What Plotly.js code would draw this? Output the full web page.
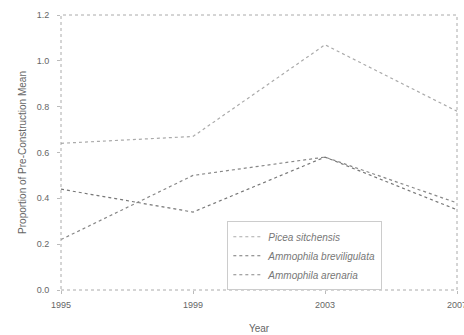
<!DOCTYPE html>
<html>
<head>
<meta charset="utf-8">
<script src="https://cdn.plot.ly/plotly-3.0.1.min.js"></script>
<style>html,body{margin:0;padding:0;background:#fff;}#chart{width:464px;height:335px;}</style>
</head>
<body>
<div id="chart"></div>
<script>
const years = [1995, 1999, 2003, 2007];
const seriesNames = ["Picea sitchensis", "Ammophila breviligulata", "Ammophila arenaria"];
const piceaValues = [0.64, 0.67, 1.07, 0.78];
const breviligulataValues = [0.44, 0.34, 0.58, 0.35];
const arenariaValues = [0.22, 0.50, 0.58, 0.38];
const yTicks = [0.0, 0.2, 0.4, 0.6, 0.8, 1.0, 1.2];
const yTickText = ["0.0", "0.2", "0.4", "0.6", "0.8", "1.0", "1.2"];

const allValues = [piceaValues, breviligulataValues, arenariaValues];
const lineColors = ["#aaaaaa", "#777777", "#888888"];
const traces = allValues.map((vals, i) => ({
  x: years, y: vals, name: "<i>" + seriesNames[i] + "</i>",
  type: "scatter", mode: "lines",
  line: {color: lineColors[i], width: 1.2, dash: "dot"}
}));

const layout = {
  width: 464, height: 335,
  margin: {l: 61, r: 7, t: 15, b: 45},
  paper_bgcolor: "#fff", plot_bgcolor: "#fff",
  font: {family: "Liberation Sans, Arial, sans-serif", size: 9, color: "#666"},
  showlegend: true,
  legend: {x: 0.42, y: 0.25, xanchor: "left", yanchor: "top",
    bgcolor: "rgba(255,255,255,0)", bordercolor: "#cccccc", borderwidth: 1,
    font: {size: 10, color: "#777"}, tracegroupgap: 0},
  xaxis: {range: [1995, 2007], tickvals: years, ticktext: years.map(String),
    showgrid: false, zeroline: false, showline: false,
    ticks: "outside", ticklen: 3, tickcolor: "#bbb", ticklabelstandoff: 3,
    ticklabeloverflow: "allow",
    title: {text: "Year", font: {size: 10, color: "#666"}, standoff: 16}},
  yaxis: {range: [0, 1.2], tickvals: yTicks, ticktext: yTickText,
    showgrid: false, zeroline: false, showline: false,
    ticks: "outside", ticklen: 3, tickcolor: "#bbb", ticklabelstandoff: 6,
    title: {text: "Proportion of Pre-Construction Mean", font: {size: 10, color: "#666"}, standoff: 8}},
  shapes: [{type: "rect", xref: "paper", yref: "paper", x0: 0, x1: 1, y0: 0, y1: 1,
    line: {color: "#aaaaaa", width: 1, dash: "dot"}}]
};
Plotly.newPlot("chart", traces, layout, {displayModeBar: false, staticPlot: true});
</script>
</body>
</html>
